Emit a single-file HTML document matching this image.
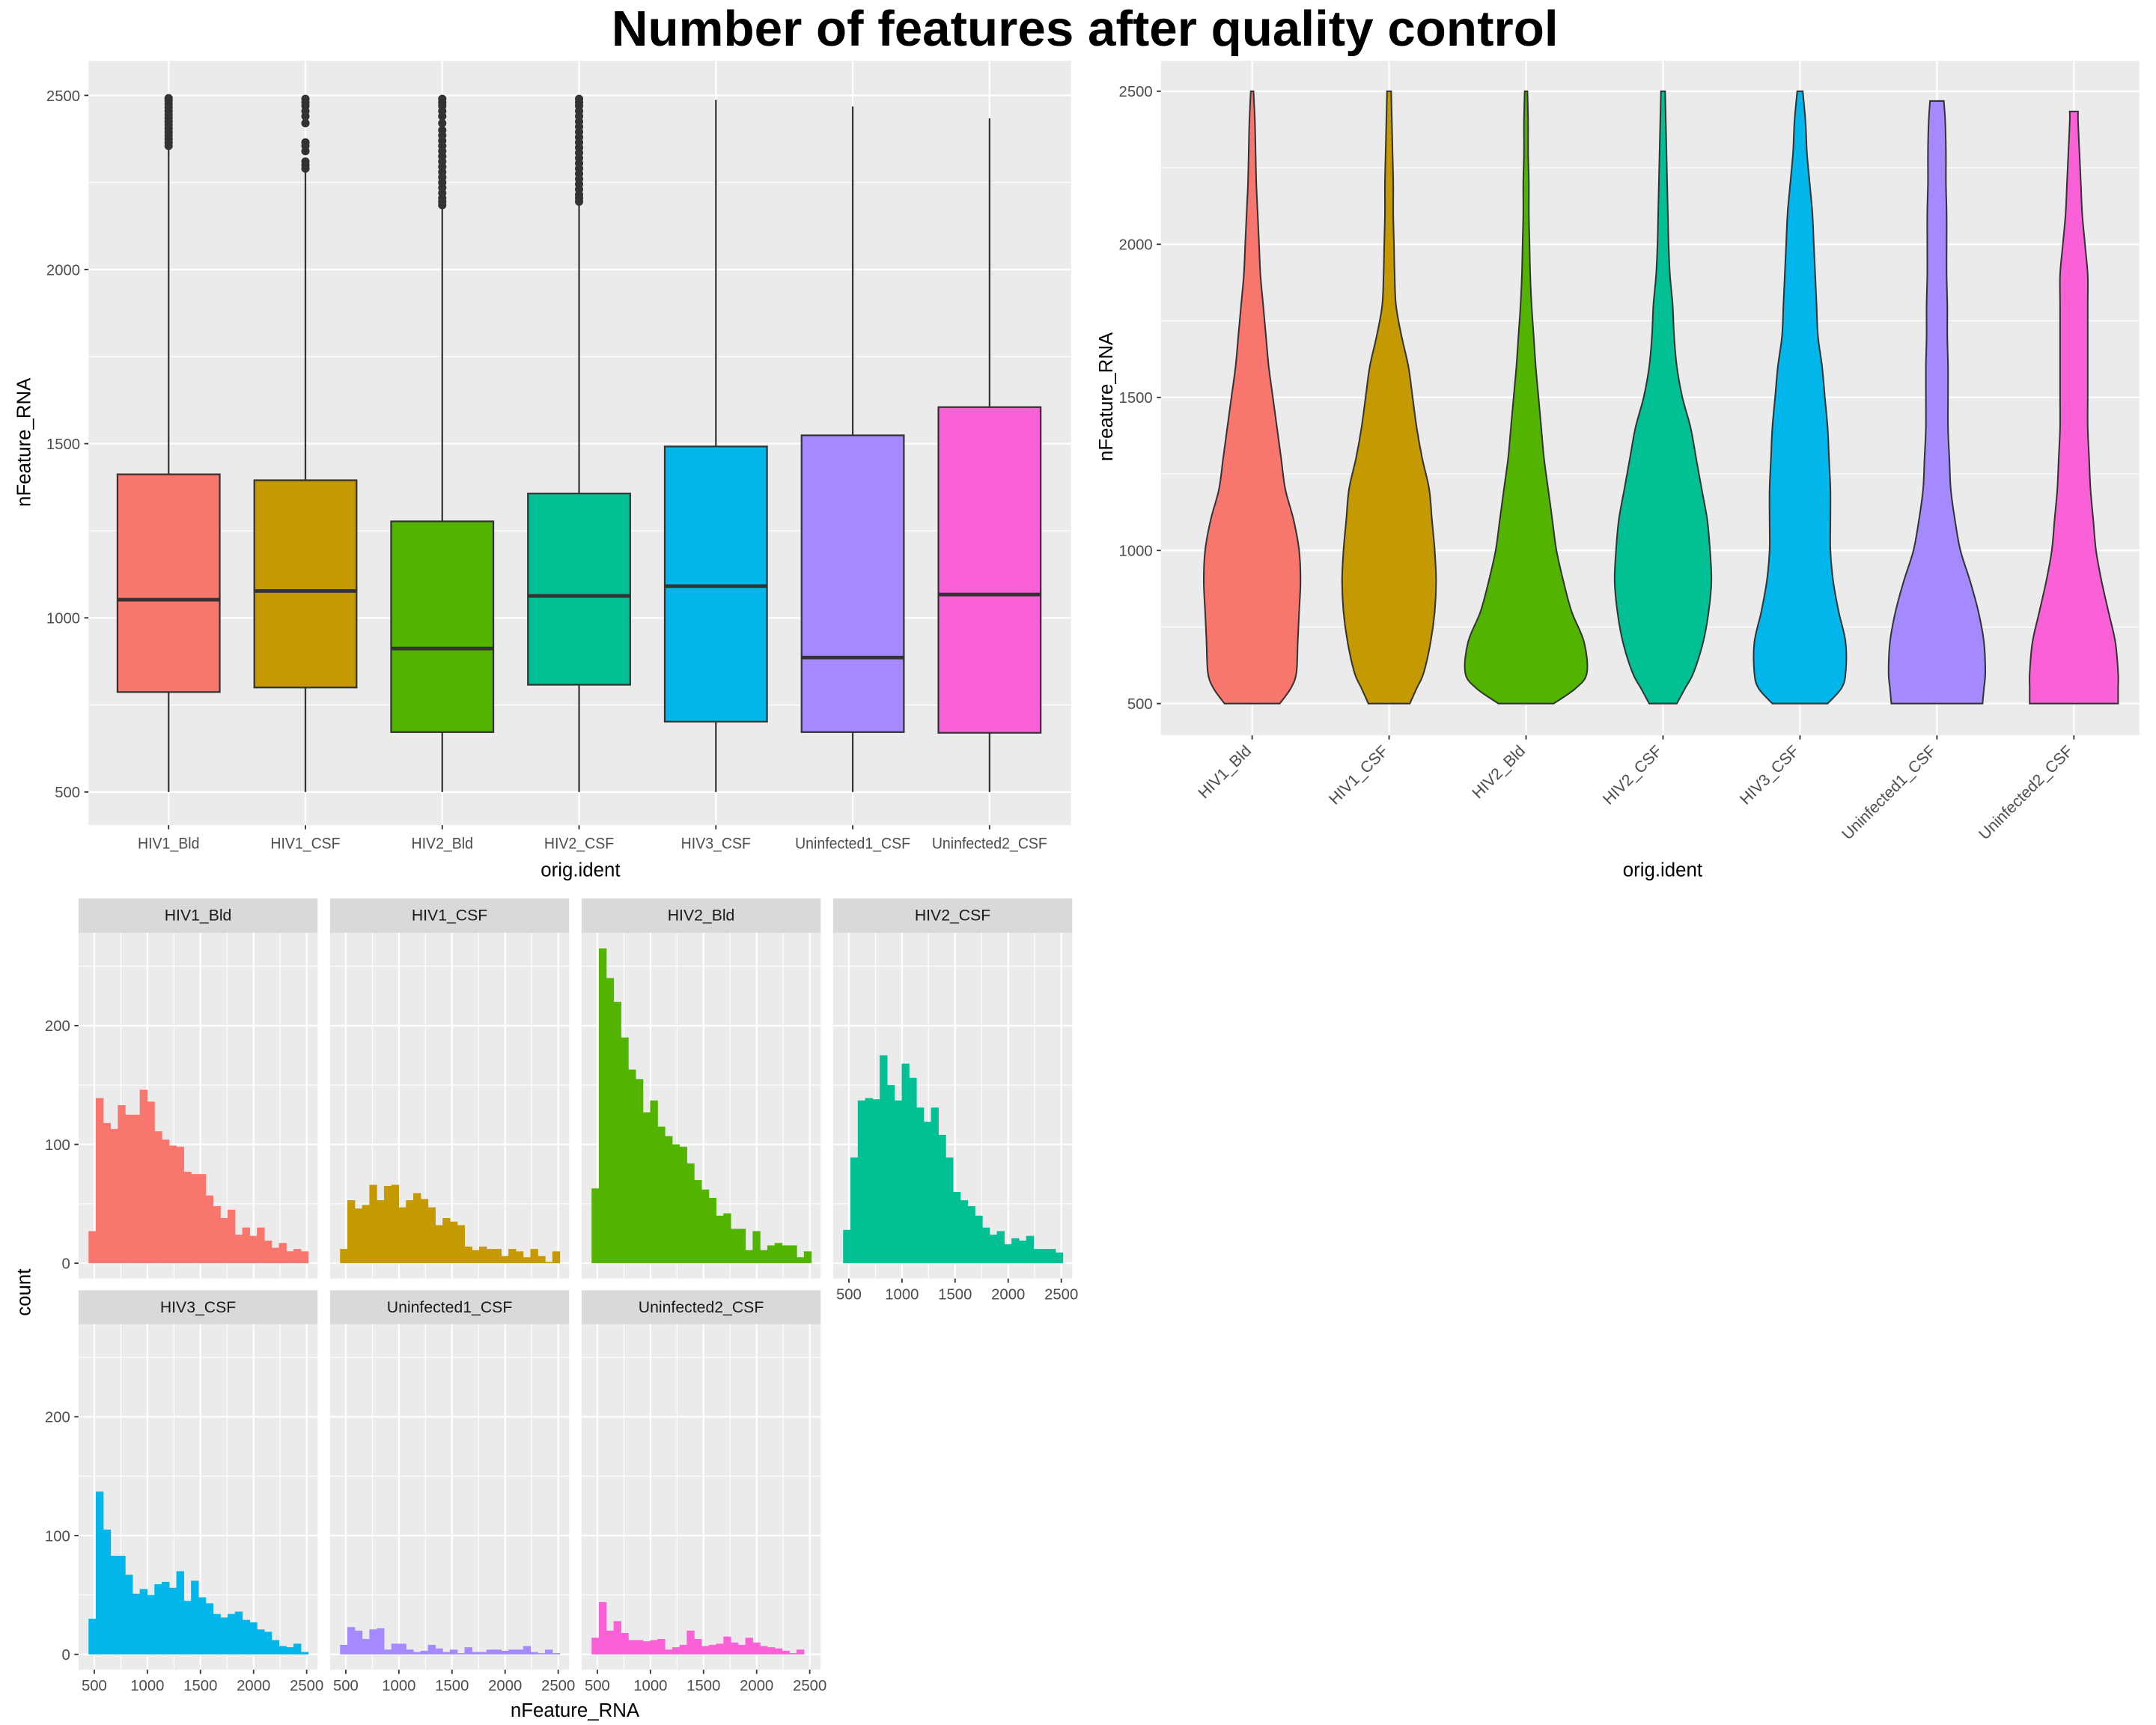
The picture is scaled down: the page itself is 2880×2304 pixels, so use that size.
<!DOCTYPE html>
<html><head><meta charset="utf-8"><style>
html,body{margin:0;padding:0;background:#fff}
svg{display:block}
text{font-family:"Liberation Sans",sans-serif}
</style></head><body>
<svg id="chart" xmlns="http://www.w3.org/2000/svg" width="2880" height="2304" viewBox="0 0 1560 1248" preserveAspectRatio="none">
<rect width="1560" height="1248" fill="#fff"/>
<text x="785" y="33" text-anchor="middle" font-size="36" font-weight="bold" textLength="685" lengthAdjust="spacingAndGlyphs">Number of features after quality control</text>
<g id="box"></g><g id="vio"></g><g id="hist"></g>
</svg>
<script>
const groups=["HIV1_Bld","HIV1_CSF","HIV2_Bld","HIV2_CSF","HIV3_CSF","Uninfected1_CSF","Uninfected2_CSF"];
const colors=["#F8766D","#C49A00","#53B400","#00C094","#00B6EB","#A58AFF","#FB61D7"];
const q1=[787,800,672,808,702,672,670];
const med=[1052,1077,912,1063,1091,886,1067];
const q3=[1412,1395,1277,1357,1492,1524,1605];
const wlo=[500,500,500,500,500,500,500];
const whi=[2350,2285,2180,2190,2487,2468,2434];
const outliers=[
[2355,2365,2375,2385,2395,2405,2415,2425,2435,2445,2455,2465,2475,2485,2492],
[2290,2300,2310,2340,2355,2365,2420,2440,2455,2470,2480,2490],
[2185,2195,2205,2220,2235,2250,2265,2280,2295,2310,2325,2340,2355,2370,2385,2400,2420,2440,2455,2470,2480,2490],
[2195,2205,2215,2230,2245,2260,2275,2290,2305,2320,2335,2350,2365,2380,2395,2410,2425,2440,2455,2470,2480,2490]
];
const yTicks=[500,1000,1500,2000,2500];
const vioVals=[500,550,600,700,800,900,1000,1100,1200,1300,1400,1500,1600,1700,1800,1900,2000,2100,2200,2300,2400,2500];
const vioW=[
[20,28,32,33,34,35,34,30,24,21,18,15,12,10,8,6,5,4,3,2.5,2,1],
[15,20,25,30,33,34,33,31,29,24,20,17,14,9,5,4,3.5,3,3,2.5,2,1.5],
[20,36,44,42,33,27,22,19,16,13,11,9,7,5.5,4,3,2.5,2,2,1.5,1.5,1],
[10,16,22,29,33,35,34,32,28,24,20,14,10,8,7,5,4,3.5,3,2.5,2,1.5],
[20,30,33,33,28,24,22,22,22,21,20,18,16,13,12,11,10,9,7,5,4,2],
[33,34,35,34,30,24,17,13,10,9,8,8,8,7.5,7.5,7,7,7,6.5,6.5,6,5],
[32,32,32,30,25,20,16,14,12,11,10,10,10,10,10,10,8,6,5,4,3,3]];
const vioMax=[2500,2500,2500,2500,2500,2468,2434];
const counts=[
[27,139,118,113,133,125,125,146,136,111,104,99,98,77,75,75,57,48,38,45,24,30,23,30,19,13,17,10,12,10],
[12,53,46,49,66,53,65,66,47,53,59,54,47,32,38,35,32,14,11,14,12,12,6,12,10,5,12,6,1,10],
[63,265,240,220,190,163,155,127,137,115,107,100,98,84,70,62,55,40,42,29,29,11,27,11,15,17,15,15,5,10],
[28,89,137,139,138,175,150,137,168,156,131,119,131,108,89,60,53,48,40,30,24,27,16,21,19,23,12,12,12,9],
[30,137,105,83,83,67,51,55,50,59,61,56,70,45,62,48,43,34,31,34,36,29,27,21,19,12,7,6,9,2],
[8,23,20,13,21,22,4,9,9,4,2,3,8,5,2,4,1,6,2,2,4,4,3,4,4,7,2,1,4,1],
[14,44,20,28,18,12,12,11,12,13,4,6,8,20,13,7,8,9,15,10,8,14,10,7,6,5,3,1,4,0]];
const binStart=446, binW=68.93;
const histYTicks=[0,100,200];
const histXTicks=[500,1000,1500,2000,2500];

const NS="http://www.w3.org/2000/svg";
function el(tag,attrs,parent,txt){const e=document.createElementNS(NS,tag);for(const k in attrs)e.setAttribute(k,attrs[k]);if(txt!==undefined)e.textContent=txt;parent.appendChild(e);return e;}
function smooth(P){let d='M'+P[0][0]+','+P[0][1];
 for(let i=0;i<P.length-1;i++){const p0=P[Math.max(0,i-1)],p1=P[i],p2=P[i+1],p3=P[Math.min(P.length-1,i+2)];
  const c1=[p1[0]+(p2[0]-p0[0])/6,p1[1]+(p2[1]-p0[1])/6],c2=[p2[0]-(p3[0]-p1[0])/6,p2[1]-(p3[1]-p1[1])/6];
  d+='C'+c1[0]+','+c1[1]+' '+c2[0]+','+c2[1]+' '+p2[0]+','+p2[1];}
 return d;}

// ---- box plot ----
const B=document.getElementById('box');
const bx0=64,bx1=775,by0=44,by1=597;
const byS=v=>573-(v-500)*0.252;
const bxS=i=>122+i*99;
let r=el('rect',{x:bx0,y:by0,width:bx1-bx0,height:by1-by0,fill:'#EBEBEB'},B);

[750,1250,1750,2250].forEach(v=>el('line',{x1:bx0,x2:bx1,y1:byS(v),y2:byS(v),stroke:'#fff','stroke-width':0.6},B));
yTicks.forEach(v=>{el('line',{x1:bx0,x2:bx1,y1:byS(v),y2:byS(v),stroke:'#fff','stroke-width':1.2},B);
 el('line',{x1:bx0-3,x2:bx0,y1:byS(v),y2:byS(v),stroke:'#333'},B);
 let t=el('text',{x:bx0-6,y:byS(v)+4,'text-anchor':'end','font-size':11,fill:'#4D4D4D'},B,v);
 });
groups.forEach((g,i)=>{const x=bxS(i);
 el('line',{x1:x,x2:x,y1:by0,y2:by1,stroke:'#fff','stroke-width':1.2},B);
 el('line',{x1:x,x2:x,y1:by1,y2:by1+3,stroke:'#333'},B);
 let t=el('text',{x:x,y:by1+17,'text-anchor':'middle','font-size':11.5,fill:'#4D4D4D',transform:`translate(${x} 0) scale(0.92 1) translate(${-x} 0)`},B,g);
 
 el('line',{x1:x,x2:x,y1:byS(wlo[i]),y2:byS(q1[i]),stroke:'#333','stroke-width':1.2},B);
 el('line',{x1:x,x2:x,y1:byS(q3[i]),y2:byS(whi[i]),stroke:'#333','stroke-width':1.2},B);
 let b=el('rect',{x:x-37,y:byS(q3[i]),width:74,height:byS(q1[i])-byS(q3[i]),fill:colors[i],stroke:'#333','stroke-width':1.2},B);
 
 el('line',{x1:x-37,x2:x+37,y1:byS(med[i]),y2:byS(med[i]),stroke:'#333','stroke-width':2.6},B);
 (outliers[i]||[]).forEach(v=>{let c=el('circle',{cx:x,cy:byS(v),r:3,fill:'#333'},B);
  });
});
let t1=el('text',{x:420,y:634,'text-anchor':'middle','font-size':14},B,'orig.ident');

let t2=el('text',{x:22,y:320,'text-anchor':'middle','font-size':14,transform:'rotate(-90 22 320)'},B,'nFeature_RNA');


// ---- violin ----
const V=document.getElementById('vio');
const vx0=840,vx1=1548,vy0=44,vy1=532;
const vyS=v=>509-(v-500)*0.2215;
const vxS=i=>906+i*99.1;
r=el('rect',{x:vx0,y:vy0,width:vx1-vx0,height:vy1-vy0,fill:'#EBEBEB'},V);

[750,1250,1750,2250].forEach(v=>el('line',{x1:vx0,x2:vx1,y1:vyS(v),y2:vyS(v),stroke:'#fff','stroke-width':0.6},V));
yTicks.forEach(v=>{el('line',{x1:vx0,x2:vx1,y1:vyS(v),y2:vyS(v),stroke:'#fff','stroke-width':1.2},V);
 el('line',{x1:vx0-3,x2:vx0,y1:vyS(v),y2:vyS(v),stroke:'#333'},V);
 let t=el('text',{x:vx0-6,y:vyS(v)+4,'text-anchor':'end','font-size':11,fill:'#4D4D4D'},V,v);
 });
groups.forEach((g,i)=>{const x=vxS(i);
 el('line',{x1:x,x2:x,y1:vy0,y2:vy1,stroke:'#fff','stroke-width':1.2},V);
 el('line',{x1:x,x2:x,y1:vy1,y2:vy1+3,stroke:'#333'},V);
 let t=el('text',{x:x,y:vy1+12,'text-anchor':'end','font-size':11.5,fill:'#4D4D4D',transform:`rotate(-45 ${x} ${vy1+12})`},V,g);
 
 const pts=[];const w=vioW[i];
 vioVals.forEach((v,k)=>{if(v<=vioMax[i])pts.push([v,w[k]]);else if(vioVals[k-1]<vioMax[i])pts.push([vioMax[i],w[k]]);});
 const right=pts.map(p=>[x+p[1],vyS(p[0])]);
 const left=pts.slice().reverse().map(p=>[x-p[1],vyS(p[0])]);
 let d=smooth(right);d+='L'+left[0][0]+','+left[0][1]+smooth(left).replace(/^M[^C]*/,'')+'Z';
 let p=el('path',{d:d,fill:colors[i],stroke:'#333','stroke-width':1.1},V);
 
});
let t3=el('text',{x:1203,y:634,'text-anchor':'middle','font-size':14},V,'orig.ident');

let t4=el('text',{x:805,y:287,'text-anchor':'middle','font-size':14,transform:'rotate(-90 805 287)'},V,'nFeature_RNA');


// ---- histograms ----
const H=document.getElementById('hist');
groups.forEach((g,i)=>{const col=i%4,row=Math.floor(i/4);
 const L=56.8+col*182,R=L+173,top=675+row*283,bot=925+row*283,stTop=650+row*283.5;
 const xS=v=>L+11.4+(v-500)*0.07685;const yS=c=>913.9+row*283-c*0.8595;
 let s=el('rect',{x:L,y:stTop,width:R-L,height:top-stTop,fill:'#D9D9D9'},H);
 
 let st=el('text',{x:(L+R)/2,y:stTop+16,'text-anchor':'middle','font-size':11.5,fill:'#1A1A1A'},H,g);
 
 let pr=el('rect',{x:L,y:top,width:R-L,height:bot-top,fill:'#EBEBEB'},H);
 
 [50,150,250].forEach(c=>el('line',{x1:L,x2:R,y1:yS(c),y2:yS(c),stroke:'#fff','stroke-width':0.6},H));
 [750,1250,1750,2250].forEach(v=>el('line',{x1:xS(v),x2:xS(v),y1:top,y2:bot,stroke:'#fff','stroke-width':0.6},H));
 histYTicks.forEach(c=>el('line',{x1:L,x2:R,y1:yS(c),y2:yS(c),stroke:'#fff','stroke-width':1.2},H));
 histXTicks.forEach(v=>el('line',{x1:xS(v),x2:xS(v),y1:top,y2:bot,stroke:'#fff','stroke-width':1.2},H));
 counts[i].forEach((c,k)=>{if(c<=0)return;const x0=xS(binStart+k*binW),x1=xS(binStart+(k+1)*binW);
  let b=el('rect',{x:x0,y:yS(c),width:x1-x0+0.3,height:c*0.8595,fill:colors[i]},H);
  });
 if(col===0)histYTicks.forEach(c=>{el('line',{x1:L-3,x2:L,y1:yS(c),y2:yS(c),stroke:'#333'},H);
  let t=el('text',{x:L-6,y:yS(c)+4,'text-anchor':'end','font-size':11,fill:'#4D4D4D'},H,c);
  });
 if(row===1||i===3)histXTicks.forEach(v=>{el('line',{x1:xS(v),x2:xS(v),y1:bot,y2:bot+3,stroke:'#333'},H);
  let t=el('text',{x:xS(v),y:bot+15,'text-anchor':'middle','font-size':11,fill:'#4D4D4D'},H,v);
  });
});
let t5=el('text',{x:416,y:1242,'text-anchor':'middle','font-size':14},H,'nFeature_RNA');

let t6=el('text',{x:22,y:935,'text-anchor':'middle','font-size':14,transform:'rotate(-90 22 935)'},H,'count');

</script>
</body></html>
